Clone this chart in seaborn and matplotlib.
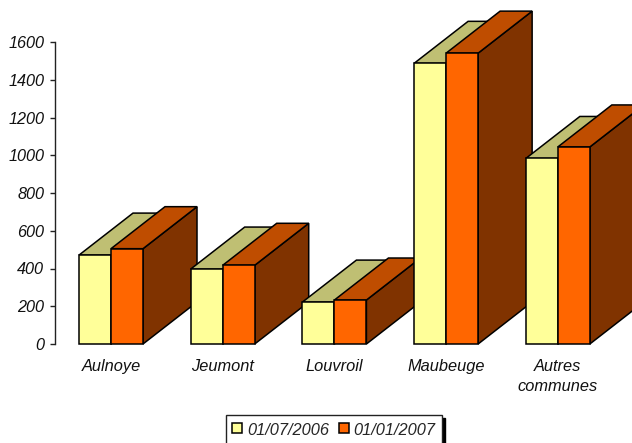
import matplotlib
matplotlib.use("Agg")
import matplotlib.pyplot as plt
from matplotlib.legend_handler import HandlerPatch
from matplotlib.patches import Polygon, Rectangle
import pandas as pd
import seaborn as sns

communes = ["Aulnoye", "Jeumont", "Louvroil", "Maubeuge", "Autres\ncommunes"]
values_2006 = [471, 397, 222, 1487, 983]
values_2007 = [505, 417, 233, 1541, 1044]
dates = ["01/07/2006", "01/01/2007"]
y_ticks = [0, 200, 400, 600, 800, 1000, 1200, 1400, 1600]

front_colors = ["#FFFF99", "#FF6600"]
top_colors = ["#BFBF73", "#BF4D00"]
side_colors = ["#80804D", "#803300"]

sns.set_theme(style="white")
plt.rcParams["font.family"] = ["Liberation Sans", "DejaVu Sans"]
plt.rcParams["font.style"] = "italic"

df = pd.DataFrame({
    "commune": communes * 2,
    "date": [dates[0]] * 5 + [dates[1]] * 5,
    "value": values_2006 + values_2007,
})

fig = plt.figure(figsize=(6.32, 4.43), dpi=100)
ax = fig.add_axes([55 / 632, (443 - 344) / 443, (632 - 55) / 632, (344 - 42) / 443])

sns.barplot(
    data=df, x="commune", y="value", hue="date", hue_order=dates,
    palette=front_colors, saturation=1, width=0.573, gap=0,
    edgecolor="black", linewidth=1.1, ax=ax,
)

ax.set_xlim(-0.5013, 4.664)
ax.set_ylim(0, 1600)

# Extrusion of each bar, expressed in axis units
depth_x = 54 / 111.7
depth_y = 42 / (302 / 1600)

for s, container in enumerate(ax.containers):
    for g, bar in enumerate(container):
        z = 3 + g + 0.5 * s
        x0, w, h = bar.get_x(), bar.get_width(), bar.get_height()
        bar.set_zorder(z + 0.2)
        side = Polygon(
            [(x0 + w, 0), (x0 + w + depth_x, depth_y),
             (x0 + w + depth_x, h + depth_y), (x0 + w, h)],
            facecolor=side_colors[s], edgecolor="black", linewidth=1.1,
            clip_on=False, zorder=z,
        )
        top = Polygon(
            [(x0, h), (x0 + depth_x, h + depth_y),
             (x0 + w + depth_x, h + depth_y), (x0 + w, h)],
            facecolor=top_colors[s], edgecolor="black", linewidth=1.1,
            clip_on=False, zorder=z + 0.1,
        )
        ax.add_patch(side)
        ax.add_patch(top)
        bar.set_clip_on(False)

sns.despine(ax=ax, bottom=True, right=True, top=True)
ax.spines["left"].set_color("#222222")
ax.spines["left"].set_linewidth(1.0)
ax.set_xlabel("")
ax.set_ylabel("")
ax.set_yticks(y_ticks)
ax.tick_params(axis="y", left=True, length=3.6, width=1.0, color="#222222",
               labelsize=11.7, pad=4.2, labelcolor="#111111")
ax.tick_params(axis="x", bottom=False, labelsize=11.8, pad=4.5, labelcolor="#111111")
for label in ax.get_xticklabels():
    label.set_linespacing(1.45)


def small_swatch(legend, orig_handle, xdescent, ydescent, width, height, fontsize):
    # Square key, a fixed size whatever the height of the legend row
    side_len = 7.2
    return Rectangle((-xdescent, -ydescent + 3.9), width, side_len)


# The legend sits below the plot and runs off the lower edge of the figure
handles, labels = ax.get_legend_handles_labels()
ax.get_legend().remove()
legend = fig.legend(
    handles, labels, ncol=2, loc="upper left",
    bbox_to_anchor=(226 / 632, 1 - 415 / 443), bbox_transform=fig.transFigure,
    fontsize=11.8, frameon=True, fancybox=False, shadow={"color": "black", "alpha": 1},
    framealpha=1, edgecolor="#222222", borderaxespad=0, borderpad=0.38,
    handlelength=0.6, handleheight=1.2, handletextpad=0.3, columnspacing=0.6,
    handler_map={Rectangle: HandlerPatch(patch_func=small_swatch)},
)
legend.get_frame().set_linewidth(1.0)

fig.savefig("out.png", dpi=100, facecolor="white")
